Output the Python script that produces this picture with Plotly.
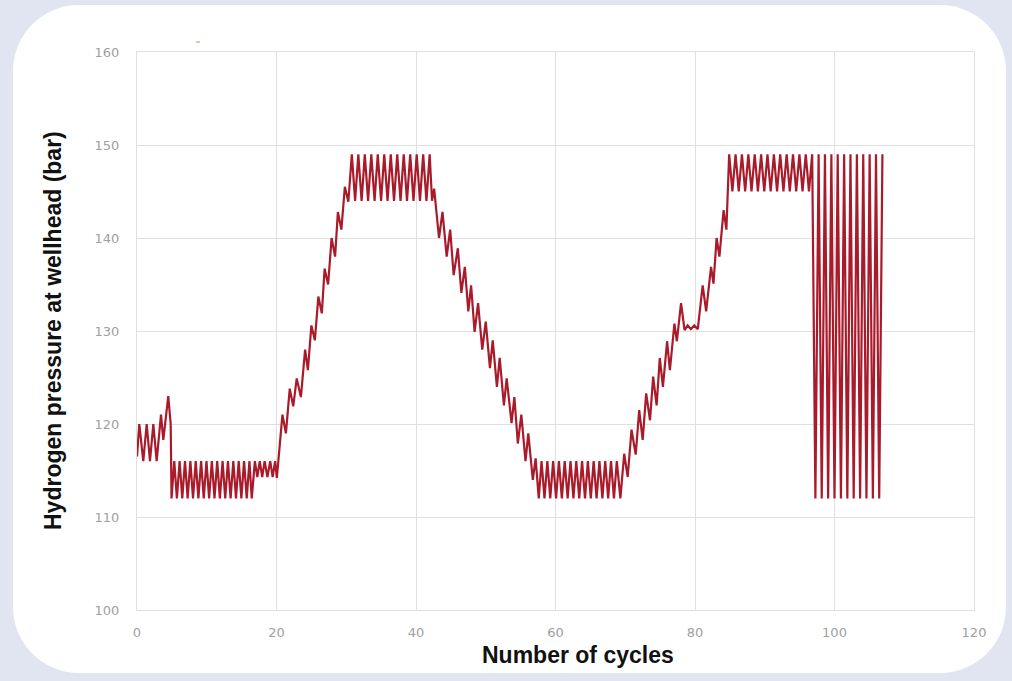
import plotly.graph_objects as go

# ---------------- data ----------------
cycles_start = [0, 0.33, 0.9, 1.39, 1.86, 2.34, 2.82, 3.44, 3.77, 4.48, 4.83]
pressure_start = [116.5, 120, 116, 120, 116, 120, 116, 121, 118.3, 123, 120]

cycles_low1 = [4.95, 5.34, 5.72, 6.11, 6.49, 6.88, 7.26, 7.65, 8.03, 8.42, 8.80, 9.19,
               9.57, 9.96, 10.34, 10.73, 11.11, 11.50, 11.88, 12.27, 12.65, 13.04,
               13.42, 13.81, 14.19, 14.58, 14.96, 15.35, 15.73, 16.12, 16.45,
               16.9, 17.25, 17.6, 17.95, 18.3, 18.7, 19.1, 19.45, 19.8, 20.05]
pressure_low1 = [112, 116, 112, 116, 112, 116, 112, 116, 112, 116, 112, 116,
                 112, 116, 112, 116, 112, 116, 112, 116, 112, 116,
                 112, 116, 112, 116, 112, 116, 112, 116, 112,
                 116, 114.3, 116, 114.3, 116, 114.3, 116, 114.3, 116, 114.2]

cycles_rise1 = [20.85, 21.35, 21.9, 22.4, 22.9, 23.5, 24.1, 24.5, 25.0, 25.5, 26.0,
                26.5, 26.9, 27.4, 27.9, 28.4, 28.8, 29.3, 29.8, 30.3]
pressure_rise1 = [121.0, 119.0, 123.8, 121.9, 124.9, 122.9, 128.0, 125.8, 130.6, 129.0,
                  133.7, 131.9, 136.7, 135.0, 140.0, 138.0, 142.8, 140.9, 145.5, 143.9]

cycles_high1 = [30.8, 31.27, 31.73, 32.2, 32.66, 33.13, 33.59, 34.06, 34.52, 34.99,
                35.45, 35.92, 36.38, 36.85, 37.31, 37.78, 38.24, 38.71, 39.17, 39.64,
                40.1, 40.57, 41.03, 41.5, 41.96, 42.3, 42.6]
pressure_high1 = [149, 144, 149, 144, 149, 144, 149, 144, 149, 144,
                  149, 144, 149, 144, 149, 144, 149, 144, 149, 144,
                  149, 144, 149, 144, 149, 144, 145.3]

cycles_fall = [43.3, 43.8, 44.4, 44.9, 45.4, 46.0, 46.5, 47.0, 47.5, 47.9, 48.4, 48.9,
               49.5, 50.0, 50.6, 51.0, 51.6, 52.0, 52.6, 53.0, 53.7, 54.1, 54.6, 55.1,
               55.7, 56.1, 56.75, 57.15]
pressure_fall = [140.0, 142.8, 138.0, 140.9, 136.0, 138.9, 134.1, 136.9, 132.1, 134.9,
                 129.9, 133.0, 128.0, 131.0, 126.0, 129.0, 124.0, 127.1, 122.0, 124.9,
                 120.1, 122.9, 117.9, 121.0, 116.0, 119.0, 114.0, 116.3]

cycles_low2 = [57.6, 58.0, 58.42, 58.83, 59.25, 59.66, 60.08, 60.49, 60.91, 61.32,
               61.74, 62.15, 62.57, 62.98, 63.40, 63.81, 64.23, 64.64, 65.06, 65.47,
               65.89, 66.30, 66.72, 67.13, 67.55, 67.96, 68.38, 68.79, 69.3]
pressure_low2 = [112, 116, 112, 116, 112, 116, 112, 116, 112, 116,
                 112, 116, 112, 116, 112, 116, 112, 116, 112, 116,
                 112, 116, 112, 116, 112, 116, 112, 116, 112]

cycles_rise2 = [69.85, 70.35, 70.9, 71.5, 72.0, 72.5, 73.0, 73.55, 74.0, 74.5, 74.95,
                75.4, 76.0, 76.4, 77.05, 77.4, 78.0, 78.5, 78.95, 79.4, 79.9, 80.4,
                81.1, 81.6, 82.3, 82.65, 83.1, 83.5, 84.1, 84.5]
pressure_rise2 = [116.8, 114.3, 119.4, 116.7, 121.5, 118.3, 123.3, 120.4, 125.1, 122.0,
                  127.1, 124.0, 128.9, 125.8, 130.8, 128.9, 133.0, 130.1, 130.6, 130.2,
                  130.6, 130.2, 134.9, 132.1, 136.9, 135.1, 140.0, 138.0, 143.0, 140.9]

cycles_high2 = [84.9, 85.36, 85.82, 86.27, 86.73, 87.19, 87.65, 88.1, 88.56, 89.02,
                89.48, 89.93, 90.39, 90.85, 91.31, 91.76, 92.22, 92.68, 93.14, 93.59,
                94.05, 94.51, 94.97, 95.42, 95.88, 96.34, 96.8]
pressure_high2 = [149, 145, 149, 145, 149, 145, 149, 145, 149, 145,
                  149, 145, 149, 145, 149, 145, 149, 145, 149, 145,
                  149, 145, 149, 145, 149, 145, 149]

cycles_swing = [97.26, 97.72, 98.17, 98.63, 99.09, 99.55, 100.0, 100.46, 100.92, 101.38,
                101.84, 102.29, 102.75, 103.21, 103.67, 104.12, 104.58, 105.04, 105.5,
                105.95, 106.41, 106.87]
pressure_swing = [112, 149, 112, 149, 112, 149, 112, 149, 112, 149,
                  112, 149, 112, 149, 112, 149, 112, 149, 112,
                  149, 112, 149]

x_ticks = [0, 20, 40, 60, 80, 100, 120]
y_ticks = [100, 110, 120, 130, 140, 150, 160]

cycles = (cycles_start + cycles_low1 + cycles_rise1 + cycles_high1 + cycles_fall
          + cycles_low2 + cycles_rise2 + cycles_high2 + cycles_swing)
pressure = (pressure_start + pressure_low1 + pressure_rise1 + pressure_high1 + pressure_fall
            + pressure_low2 + pressure_rise2 + pressure_high2 + pressure_swing)

# ---------------- layout geometry ----------------
W, H = 1012, 681
ML, MR, MT, MB = 137, 38, 52, 71
PW, PH = W - ML - MR, H - MT - MB


def px(x, y):
    return (x - ML) / PW, (H - MB - y) / PH


def rounded_rect_path(x0, y0, x1, y1, r):
    k = 0.5523 * r
    pts = [
        ("M", [(x0 + r, y0)]),
        ("L", [(x1 - r, y0)]),
        ("C", [(x1 - r + k, y0), (x1, y0 + r - k), (x1, y0 + r)]),
        ("L", [(x1, y1 - r)]),
        ("C", [(x1, y1 - r + k), (x1 - r + k, y1), (x1 - r, y1)]),
        ("L", [(x0 + r, y1)]),
        ("C", [(x0 + r - k, y1), (x0, y1 - r + k), (x0, y1 - r)]),
        ("L", [(x0, y0 + r)]),
        ("C", [(x0, y0 + r - k), (x0 + r - k, y0), (x0 + r, y0)]),
    ]
    s = ""
    for cmd, plist in pts:
        s += cmd + " " + " ".join("%.5f,%.5f" % px(a, b) for a, b in plist) + " "
    return s + "Z"


fig = go.Figure()
fig.add_trace(go.Scatter(
    x=cycles, y=pressure, mode="lines",
    line=dict(color="#a91b2b", width=2.2),
    hoverinfo="skip", showlegend=False,
))

tick_font = dict(family="DejaVu Sans", size=13, color="#a0a0a0")
grid = "#e0e0e0"

fig.update_layout(
    width=W, height=H,
    margin=dict(l=ML, r=MR, t=MT, b=MB),
    paper_bgcolor="#e1e5f2",
    plot_bgcolor="white",
    showlegend=False,
    xaxis=dict(range=[0, 120], tickvals=x_ticks, ticktext=[str(v) for v in x_ticks],
               showgrid=True, gridcolor=grid, gridwidth=1, zeroline=False,
               showline=True, linecolor=grid, mirror=True, ticks="",
               tickfont=tick_font, ticklabelstandoff=10, fixedrange=True),
    yaxis=dict(range=[100, 160], tickvals=y_ticks, ticktext=[str(v) for v in y_ticks],
               showgrid=True, gridcolor=grid, gridwidth=1, zeroline=False,
               showline=True, linecolor=grid, mirror=True, ticks="",
               tickfont=tick_font, ticklabelstandoff=14, fixedrange=True),
    shapes=[
        dict(type="path", xref="paper", yref="paper",
             path=rounded_rect_path(13, 5, 1006, 673, 66),
             fillcolor="white", line=dict(width=0), layer="below"),
        dict(type="line", xref="paper", yref="paper",
             x0=px(196, 42)[0], x1=px(200, 42)[0], y0=px(196, 42)[1], y1=px(200, 42)[1],
             line=dict(color="#a6d36a", width=1.5)),
    ],
    annotations=[
        dict(text="<b>Number of cycles</b>", xref="paper", yref="paper",
             x=px(578, 655)[0], y=px(578, 655)[1], xanchor="center", yanchor="middle",
             showarrow=False,
             font=dict(family="Liberation Sans, Arial", size=23, color="#111111")),
        dict(text="<b>Hydrogen pressure at wellhead (bar)</b>", xref="paper", yref="paper",
             x=px(53, 331)[0], y=px(53, 331)[1], xanchor="center", yanchor="middle",
             textangle=-90, showarrow=False,
             font=dict(family="Liberation Sans, Arial", size=23, color="#111111")),
    ],
)

fig.write_html("out.html")
